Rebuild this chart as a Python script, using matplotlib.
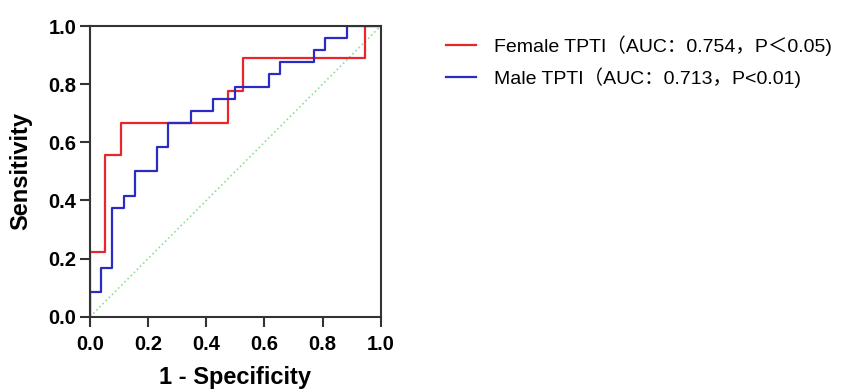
import matplotlib
matplotlib.use('Agg')
import matplotlib.pyplot as plt

# ROC step coordinates
female_fpr = [0, 0, 1/19, 1/19, 2/19, 2/19, 9/19, 9/19, 10/19, 10/19, 18/19, 18/19, 1]
female_tpr = [0, 2/9, 2/9, 5/9, 5/9, 6/9, 6/9, 7/9, 7/9, 8/9, 8/9, 1, 1]

male_fpr = [0, 0, 1/26, 1/26, 2/26, 2/26, 3/26, 3/26, 4/26, 4/26, 6/26, 6/26,
            7/26, 7/26, 9/26, 9/26, 11/26, 11/26, 13/26, 13/26, 16/26, 16/26,
            17/26, 17/26, 20/26, 20/26, 21/26, 21/26, 23/26, 23/26, 1]
male_tpr = [0, 2/24, 2/24, 4/24, 4/24, 9/24, 9/24, 10/24, 10/24, 12/24, 12/24, 14/24,
            14/24, 16/24, 16/24, 17/24, 17/24, 18/24, 18/24, 19/24, 19/24, 20/24,
            20/24, 21/24, 21/24, 22/24, 22/24, 23/24, 23/24, 1, 1]

labels = ['Female TPTI（AUC：0.754，P＜0.05)', 'Male TPTI（AUC：0.713，P<0.01)']
ticks = [0.0, 0.2, 0.4, 0.6, 0.8, 1.0]

fig = plt.figure(figsize=(8.43, 3.9), dpi=100)
ax = fig.add_axes([0.1068, 0.188, 0.3448, 0.7453])

ax.plot([0, 1], [0, 1], color='#8fe08f', linestyle=':', linewidth=1.2)
l1, = ax.plot(female_fpr, female_tpr, color='#e8262b', linewidth=1.6)
l2, = ax.plot(male_fpr, male_tpr, color='#2a2ac4', linewidth=1.6)

ax.set_xlim(0, 1)
ax.set_ylim(0, 1)
ax.set_xticks(ticks)
ax.set_yticks(ticks)
ax.set_xticklabels([f'{t:.1f}' for t in ticks])
ax.set_yticklabels([f'{t:.1f}' for t in ticks])

for s in ax.spines.values():
    s.set_linewidth(1.5)
    s.set_color('#333333')
ax.tick_params(direction='out', length=7, width=1.5, color='#333333')
ax.tick_params(axis='x', pad=6)
ax.tick_params(axis='y', pad=3)
for lab in ax.get_xticklabels() + ax.get_yticklabels():
    lab.set_fontfamily('Liberation Sans')
    lab.set_fontweight('bold')
    lab.set_fontsize(14.5)

ax.set_xlabel('1 - Specificity', fontfamily='Liberation Sans', fontweight='bold',
              fontsize=17)
ax.set_ylabel('Sensitivity', fontfamily='Liberation Sans', fontweight='bold',
              fontsize=17)
ax.xaxis.set_label_coords(0.5, -0.17)
ax.yaxis.set_label_coords(-0.198, 0.5)

fig.legend([l1, l2], labels, loc='upper left', bbox_to_anchor=(0.508, 0.955),
           frameon=False, handlelength=1.55, handletextpad=0.93, labelspacing=0.6,
           prop={'family': ['Liberation Sans', 'Noto Sans CJK SC'], 'size': 14})

fig.savefig('out.png', dpi=100)
